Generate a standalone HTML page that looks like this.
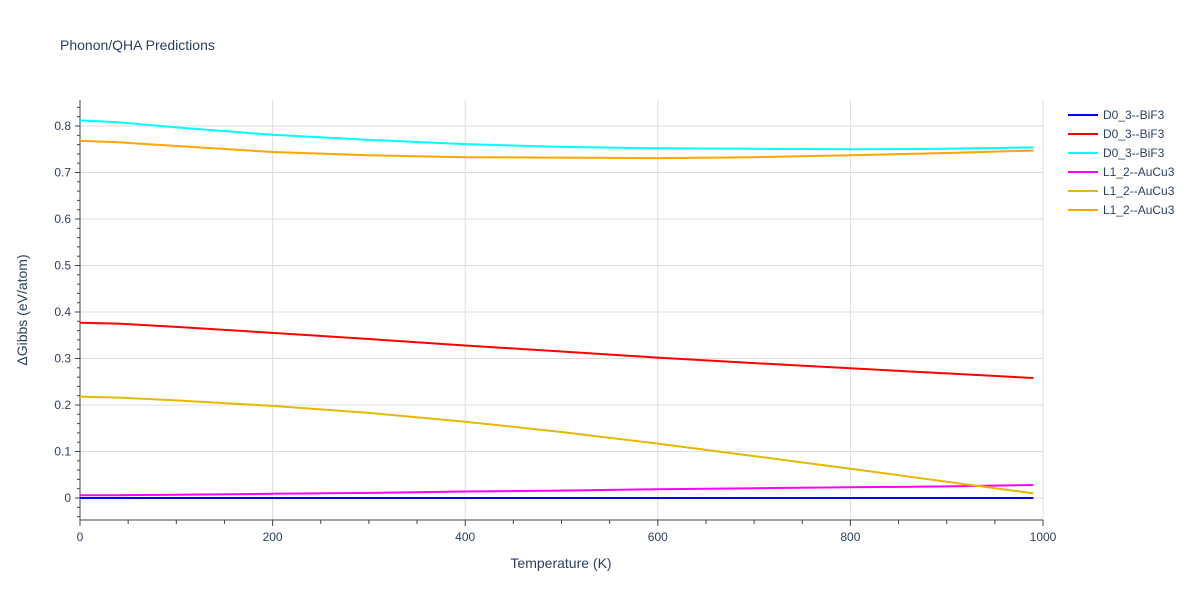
<!DOCTYPE html>
<html><head><meta charset="utf-8"><style>
body{margin:0;background:#fff;font-family:"Liberation Sans",sans-serif;}
svg text{font-family:"Liberation Sans",sans-serif;fill:#2a3f5f;}
</style></head><body>
<svg id="chart" width="1200" height="600" xmlns="http://www.w3.org/2000/svg">
<text x="60" y="50" font-size="14">Phonon/QHA Predictions</text>
<g id="grid"></g><g id="axes"></g><g id="series"></g><g id="legend"></g>
<text x="561" y="568" font-size="14" text-anchor="middle">Temperature (K)</text>
<text transform="translate(27,310) rotate(-90)" font-size="14" text-anchor="middle">ΔGibbs (eV/atom)</text>
</svg>
<script>
const temps=[0,40,100,200,300,400,500,600,700,800,900,990];
const seriesNames=["D0_3--BiF3","D0_3--BiF3","D0_3--BiF3","L1_2--AuCu3","L1_2--AuCu3","L1_2--AuCu3"];
const seriesColors=["#0000ff","#ff0000","#00ffff","#ff00ff","#e6b800","#ffa500"];
const blueVals=[0,0,0,0,0,0,0,0,0,0,0,0];
const redVals=[0.377,0.375,0.368,0.355,0.342,0.328,0.315,0.302,0.290,0.279,0.268,0.258];
const cyanVals=[0.812,0.808,0.797,0.781,0.770,0.761,0.755,0.752,0.751,0.750,0.751,0.754];
const magentaVals=[0.006,0.006,0.007,0.009,0.011,0.014,0.016,0.019,0.021,0.023,0.025,0.028];
const yellowVals=[0.218,0.216,0.210,0.198,0.183,0.164,0.142,0.117,0.090,0.063,0.035,0.010];
const orangeVals=[0.768,0.765,0.757,0.744,0.737,0.733,0.732,0.731,0.733,0.737,0.742,0.747];
const xTicks=[0,200,400,600,800,1000];
const yTicks=[0,0.1,0.2,0.3,0.4,0.5,0.6,0.7,0.8];
const allSeries=[blueVals,redVals,cyanVals,magentaVals,yellowVals,orangeVals];
const NS="http://www.w3.org/2000/svg";
const X0=80,X1=1043,YT=100,YB=520;
function xs(v){return X0+v*(X1-X0)/1000;}
function ys(v){return 498-v*465;}
function mk(tag,parent,attrs){const e=document.createElementNS(NS,tag);for(const k in attrs)e.setAttribute(k,attrs[k]);document.getElementById(parent).appendChild(e);return e;}
xTicks.forEach(t=>{
 if(t>0){const l=mk('line','grid',{x1:xs(t),x2:xs(t),y1:YT,y2:YB,stroke:'#ddd'});
 
 }
 const tx=mk('text','axes',{x:xs(t),y:541,'font-size':12,'text-anchor':'middle'});tx.textContent=t;
 
 
});
for(let t=0;t<=1000;t+=50){const l=mk('line','axes',{x1:xs(t),x2:xs(t),y1:YB,y2:t%200?YB+4:YB+6,stroke:'#444'});
 
 }
yTicks.forEach(t=>{
 const l=mk('line','grid',{x1:X0,x2:X1,y1:ys(t),y2:ys(t),stroke:'#ddd'});
 
 
 const tx=mk('text','axes',{x:71,y:ys(t)+4,'font-size':12,'text-anchor':'end'});tx.textContent=t===0?'0':t.toFixed(1);
 
 
});
for(let i=-2;i<=42;i++){const v=i*0.02;const y=ys(v);if(y<YT||y>YB)continue;const l=mk('line','axes',{x1:X0-(i%5?3:5),x2:X0,y1:y,y2:y,stroke:'#444'});
 
 }
const xa=mk('line','axes',{x1:X0,x2:X1,y1:YB,y2:YB,stroke:'#444'});


const ya=mk('line','axes',{x1:X0,x2:X0,y1:YT,y2:YB,stroke:'#444'});


allSeries.forEach((vals,i)=>{
 const d=vals.map((v,j)=>(j?'L':'M')+xs(temps[j]).toFixed(1)+','+ys(v).toFixed(1)).join('');
 const p=mk('path','series',{d:d,fill:'none',stroke:seriesColors[i],'stroke-width':2});
 
 
 const y=115+i*19;
 const g=mk('g','legend',{});
 
 
 const l=document.createElementNS(NS,'line');l.setAttribute('x1',1068);l.setAttribute('x2',1098);l.setAttribute('y1',y);l.setAttribute('y2',y);l.setAttribute('stroke',seriesColors[i]);l.setAttribute('stroke-width',2);g.appendChild(l);
 const t=document.createElementNS(NS,'text');t.setAttribute('x',1103);t.setAttribute('y',y+4);t.setAttribute('font-size',12);t.textContent=seriesNames[i];g.appendChild(t);
});
</script>
</body></html>
